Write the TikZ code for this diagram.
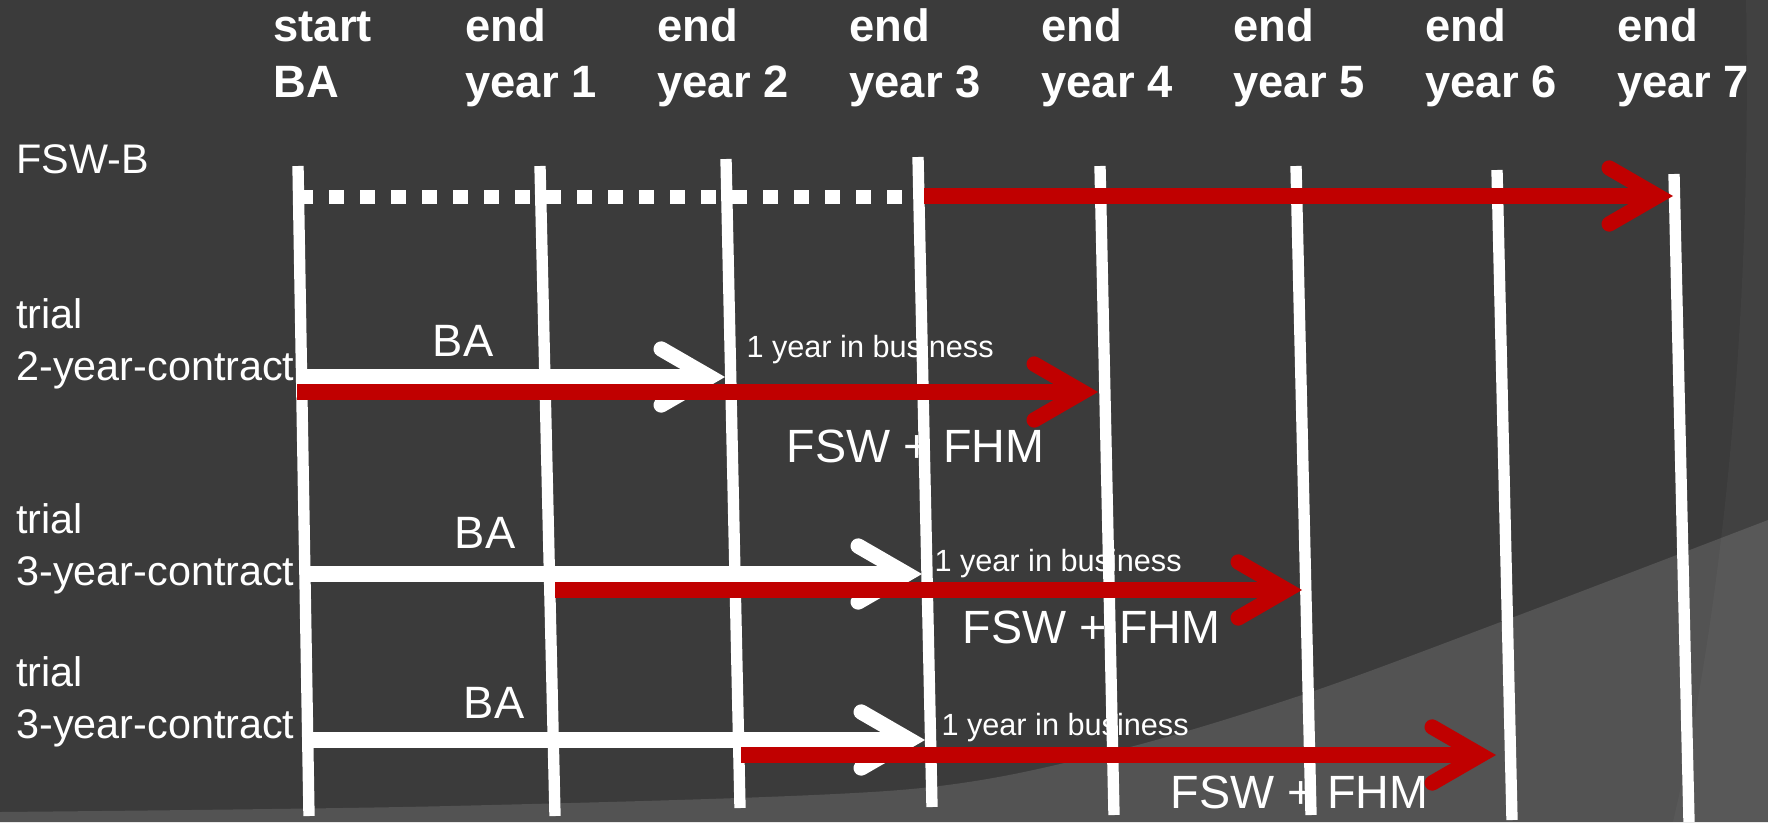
\documentclass[tikz,border=0pt]{standalone}
\usepackage{fontspec}
\setmainfont{Liberation Sans}

\definecolor{slidebg}{HTML}{3B3B3B}
\definecolor{slidelow}{HTML}{535353}
\definecolor{barred}{HTML}{C00000}

\tikzset{every picture/.style={line width=0.75pt}}
\tikzset{
	colhead/.style={text=white, inner sep=0pt, anchor=base west, align=left, font=\fontsize{34}{42}\selectfont\bfseries},
	rowlabel/.style={text=white, inner sep=0pt, anchor=base west, align=left, font=\fontsize{31}{39}\selectfont},
	balabel/.style={text=white, inner sep=0pt, anchor=base, font=\fontsize{34}{40}\selectfont},
	bizlabel/.style={text=white, inner sep=0pt, anchor=base west, font=\fontsize{23}{27}\selectfont},
	fswlabel/.style={text=white, inner sep=0pt, anchor=base west, font=\fontsize{35}{41}\selectfont},
	yearline/.style={draw=white, line width=8.5pt},
	dotline/.style={draw=white, line width=10.5pt, dash pattern=on 11.25pt off 12pt},
	whitebar/.style={draw=white, line width=11.5pt},
	redbar/.style={draw=barred, line width=11.5pt},
	whitetip/.pic={\draw[white, line width=11.5pt, line cap=round, line join=miter] (-48.5,-28) -- (0,0) -- (-48.5,28);},
	redtip/.pic={\draw[barred, line width=11.5pt, line cap=round, line join=miter] (-48.5,-28) -- (0,0) -- (-48.5,28);}
}

\begin{document}
\begin{tikzpicture}[x=0.75pt,y=0.75pt,yscale=-1,xscale=1]
	\useasboundingbox (0,0) rectangle (1768,822);

	% slide background
	\fill[slidebg] (0,0) rectangle (1768,822);
	\fill[slidelow] plot[smooth] coordinates {(0,812) (450,806) (900,790) (1110,752) (1305,694) (1506,620) (1768,520)} -- (1768,822) -- (0,822) -- cycle;
	\fill[white, fill opacity=0.03] (1746,0) .. controls (1752,300) and (1725,600) .. (1673,822) -- (1768,822) -- (1768,0) -- cycle;

	% column heads (anchored on the second line)
	\node[colhead] (hd0) at (273,97) {start\\BA};
	\foreach \i in {1,...,7}
		\node[colhead] (hd\i) at (273+192*\i,97) {end\\year \i};

	% row labels
	\node[rowlabel] (fswb) at (16,173) {FSW-B};
	\node[rowlabel] (trial2) at (16,380) {trial\\2-year-contract};
	\node[rowlabel] (trial3a) at (16,585) {trial\\3-year-contract};
	\node[rowlabel] (trial3b) at (16,738) {trial\\3-year-contract};

	% BA labels
	\node[balabel] (ba2) at (463,356) {BA};
	\node[balabel] (ba3a) at (485,548) {BA};
	\node[balabel] (ba3b) at (494,718) {BA};

	% business labels
	\node[bizlabel] (biz2) at (746,357) {1 year in business};
	\node[bizlabel] (biz3a) at (934,571) {1 year in business};
	\node[bizlabel] (biz3b) at (941,735) {1 year in business};

	% FSW + FHM labels
	\node[fswlabel] (fsw2) at (786,462) {FSW + FHM};
	\node[fswlabel] (fsw3a) at (962,643) {FSW + FHM};
	\node[fswlabel] (fsw3b) at (1170,808) {FSW + FHM};

	% year lines
	\foreach \xt/\yt/\xb/\yb in {298/166/309/816, 540/166/555/816, 726/159/740/808, 918/157/932/807, 1100/166/1114/815, 1296/166/1311/815, 1497/170/1512/820, 1674/174/1689/822}
		\draw[yearline] (\xt,\yt) -- (\xb,\yb);

	% arrow end points
	\coordinate (d0) at (298,197);
	\coordinate (d3) at (920,197);
	\coordinate (r1s) at (924,196);
	\coordinate (r1t) at (1673,196);
	\coordinate (w2s) at (302,377);
	\coordinate (w2t) at (725,377);
	\coordinate (r2s) at (297,392);
	\coordinate (r2t) at (1098,392);
	\coordinate (w3s) at (305,574);
	\coordinate (w3t) at (922,574);
	\coordinate (r3s) at (555,590);
	\coordinate (r3t) at (1302,590);
	\coordinate (w4s) at (306,740);
	\coordinate (w4t) at (925,740);
	\coordinate (r4s) at (741,755);
	\coordinate (r4t) at (1496,755);

	% FSW-B
	\draw[dotline] (d0) -- (d3);
	\draw[redbar] (r1s) -- ([xshift=-11.5pt]r1t) pic {redtip};

	% BA arrows
	\draw[whitebar] (w2s) -- ([xshift=-11.5pt]w2t) pic {whitetip};
	\draw[whitebar] (w3s) -- ([xshift=-11.5pt]w3t) pic {whitetip};
	\draw[whitebar] (w4s) -- ([xshift=-11.5pt]w4t) pic {whitetip};

	% FSW + FHM arrows
	\draw[redbar] (r2s) -- ([xshift=-11.5pt]r2t) pic {redtip};
	\draw[redbar] (r3s) -- ([xshift=-11.5pt]r3t) pic {redtip};
	\draw[redbar] (r4s) -- ([xshift=-11.5pt]r4t) pic {redtip};

\end{tikzpicture}
\end{document}
